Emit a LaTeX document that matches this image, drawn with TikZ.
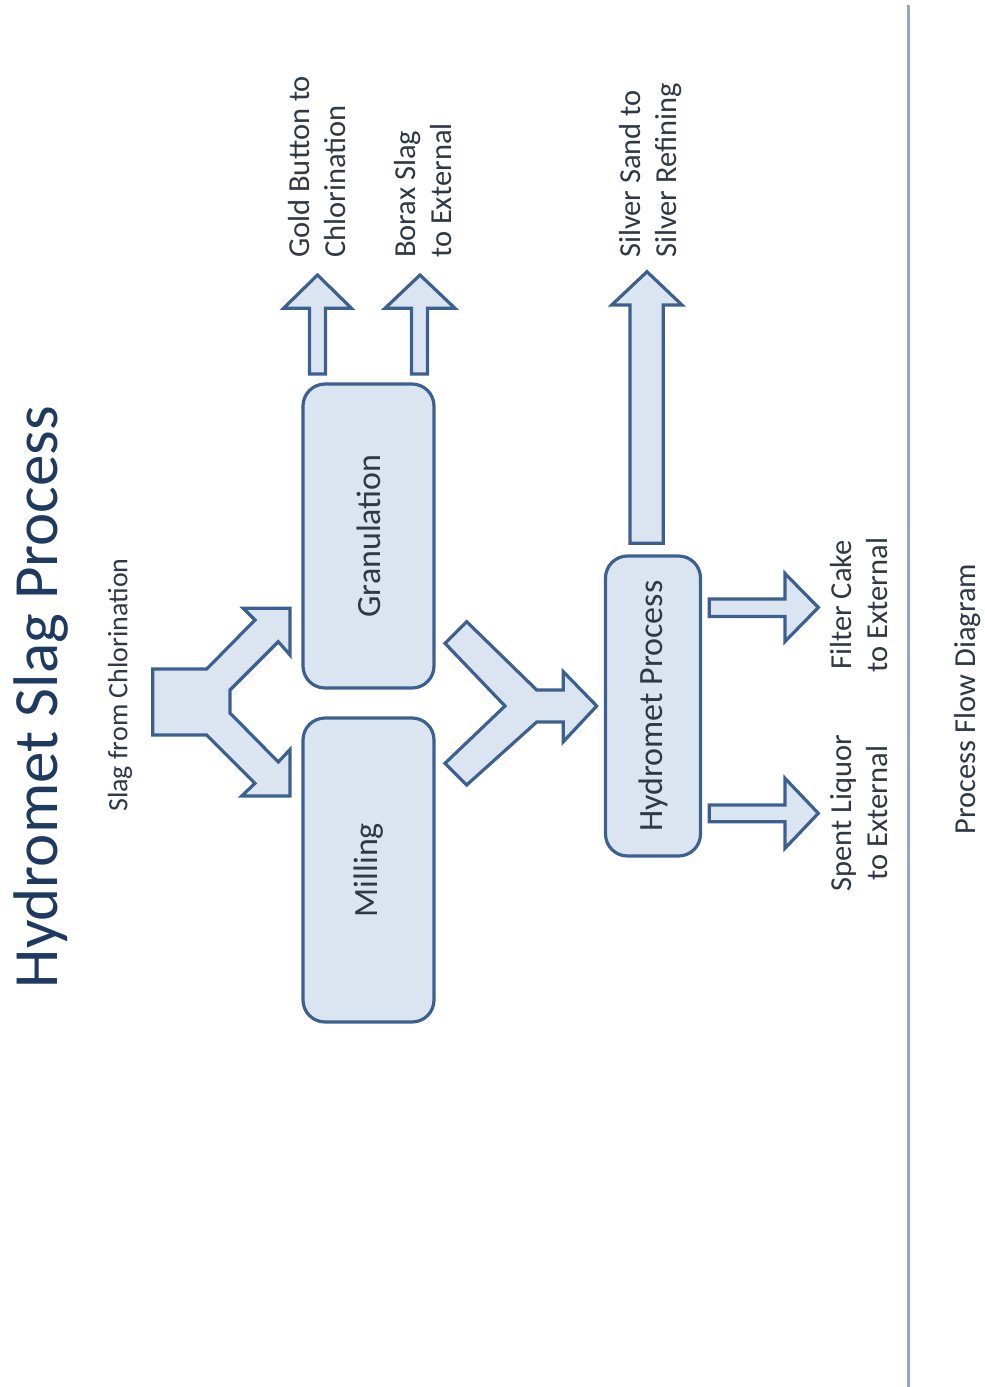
\documentclass[tikz,border=0pt]{standalone}
\usepackage{fontspec}
\setmainfont{Carlito}
\definecolor{edge}{HTML}{3C6090}
\definecolor{fillc}{HTML}{DBE5F1}
\definecolor{titlec}{HTML}{1F3A60}
\definecolor{txt}{HTML}{2E3846}
\definecolor{rule}{HTML}{93A8C2}
\begin{document}
\begin{tikzpicture}[x=1pt,y=-1pt,
  blk/.style={draw=edge,fill=fillc,line width=3.2pt,line join=miter},
  procbox/.style={draw=edge,fill=fillc,line width=3.2pt,rounded corners=22pt,rotate=90,inner sep=0pt,
     text=txt,font=\fontsize{34}{40}\selectfont},
  lbl/.style={rotate=90,inner sep=0pt,text=txt,font=\fontsize{30.5}{36}\selectfont}]
\useasboundingbox (0,0) rectangle (985,1387);
\fill[white] (0,0) rectangle (985,1387);
% vertical rule
\draw[rule,line width=3pt] (908,5) -- (908,1387);
% title and texts
\node[rotate=90,inner sep=0pt,text=titlec,font=\fontsize{63}{70}\selectfont] (title) at (41,697) {Hydromet Slag Process};
\node[rotate=90,inner sep=0pt,text=txt,font=\fontsize{28}{34}\selectfont] (src) at (120,685) {Slag from Chlorination};
\node[lbl] (pfd) at (968,699) {Process Flow Diagram};
% process boxes
\node[procbox,minimum width=304pt,minimum height=131pt] (gran) at (368.5,536) {Granulation};
\node[procbox,minimum width=304pt,minimum height=131pt] (mill) at (368.5,870) {Milling};
\node[procbox,minimum width=300pt,minimum height=95pt] (hyd) at (653,706) {Hydromet Process};
% split arrow
\draw[blk] (152.7,669) -- (206.7,669) -- (255,620) -- (243.3,608.3) -- (290,608.3) -- (290,655)
  -- (278.3,641.7) -- (230,690) -- (230,713) -- (278.3,762) -- (290,749.5) -- (290,796)
  -- (241.7,796) -- (255,783.3) -- (206.7,735) -- (152.7,735) -- cycle;
% merge arrow
\draw[blk] (445,643.3) -- (466.7,621.7) -- (536.7,690) -- (563.3,690) -- (563.3,671.7) -- (596.7,706)
  -- (563.3,741.7) -- (563.3,722) -- (536.7,722) -- (466.7,785) -- (445,763.3) -- (505,706) -- cycle;
% up arrows
\draw[blk] (309.5,374) -- (309.5,308.3) -- (283.5,308.3) -- (317.5,275) -- (351.5,308.3) -- (325.5,308.3) -- (325.5,374) -- cycle;
\draw[blk] (411.5,374) -- (411.5,308.3) -- (385,308.3) -- (420,275) -- (455,308.3) -- (427.5,308.3) -- (427.5,374) -- cycle;
\draw[blk] (630,543.3) -- (630,305) -- (611.7,305) -- (647,271.7) -- (682,305) -- (663.3,305) -- (663.3,543.3) -- cycle;
% right arrows
\draw[blk] (709.3,599) -- (785,599) -- (785,573.5) -- (818.3,607.5) -- (785,641.5) -- (785,616.5) -- (709.3,616.5) -- cycle;
\draw[blk] (709.3,805) -- (785,805) -- (785,778.3) -- (818.3,813.3) -- (785,848.3) -- (785,821.7) -- (709.3,821.7) -- cycle;
% output labels
\node[lbl,anchor=west,align=left] (gold) at (317,258) {Gold Button to\\Chlorination};
\node[lbl,anchor=west,align=left] (borax) at (423,258) {Borax Slag\\to External};
\node[lbl,anchor=west,align=left] (silver) at (651,258) {Silver Sand to\\Silver Refining};
\node[lbl,align=center] (filter) at (859,605) {Filter Cake\\to External};
\node[lbl,align=center] (spent) at (859,813) {Spent Liquor\\to External};
\end{tikzpicture}
\end{document}
